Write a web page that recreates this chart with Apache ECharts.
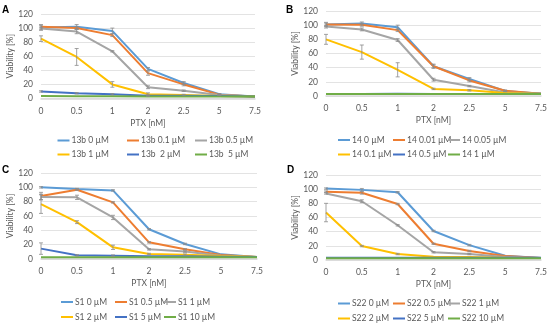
<!DOCTYPE html>
<html><head><meta charset="utf-8">
<script src="https://cdn.jsdelivr.net/npm/echarts@6/dist/echarts.min.js"></script>
<style>html,body{margin:0;padding:0;background:#fff}#c{width:550px;height:328px}</style>
</head><body><div id="c"></div>
<script>
// Categories (x axis)
const ptx = ['0', '0.5', '1', '2', '2.5', '5', '7.5'];
const yTicks = [0, 20, 40, 60, 80, 100, 120];

// Panel A – 13b
const namesA = ['13b 0 µM', '13b 0.1 µM', '13b 0.5 µM', '13b 1 µM', '13b  2 µM', '13b  5 µM'];
const A0 = [101, 102, 96, 42, 22, 6, 3];
const A1 = [102, 100, 90, 36, 20, 5.5, 3];
const A2 = [99.5, 95, 67, 16, 11, 5, 3];
const A3 = [85, 59, 20, 6, 5, 3.5, 3];
const A4 = [10, 7.5, 6, 4, 4, 3.5, 3];
const A5 = [3.5, 3.3, 3.2, 3, 3, 3, 2.8];
const eA0 = [4, 3, 4, 2, 2, 1, 0];
const eA1 = [2, 2, 2, 3, 2, 1, 0];
const eA2 = [2, 3, 1, 2, 1, 1, 0];
const eA3 = [4, 12, 4, 2, 1, 0, 0];
const eA4 = [1, 1, 1, 1, 0, 0, 0];
const eA5 = [0, 0, 0, 0, 0, 0, 0];

// Panel B – 14
const namesB = ['14 0 µM', '14 0.01 µM', '14 0.05 µM', '14 0.1 µM', '14 0.5 µM', '14 1 µM'];
const B0 = [101, 102.5, 97, 42, 24, 7, 3.3];
const B1 = [101, 100.5, 93, 42, 22, 7.5, 3.3];
const B2 = [98, 94, 79, 23, 14, 5, 3.3];
const B3 = [80, 62, 37, 10, 8, 4.2, 3.3];
const B4 = [3, 3, 3.1, 3, 3, 3, 3.3];
const B5 = [2.8, 2.8, 2.8, 2.8, 2.8, 2.8, 2.8];
const eB0 = [3, 2, 3, 3, 2, 1, 0];
const eB1 = [2, 2, 2, 2, 2, 1, 0];
const eB2 = [2, 2, 2, 2, 1, 0, 0];
const eB3 = [7, 10, 10, 1, 1, 0, 0];
const eB4 = [0, 0, 0, 0, 0, 0, 0];
const eB5 = [0, 0, 0, 0, 0, 0, 0];

// Panel C – S1
const namesC = ['S1 0 µM', 'S1 0.5 µM', 'S1 1 µM', 'S1 2 µM', 'S1 5 µM', 'S1 10 µM'];
const C0 = [100, 97.6, 95.7, 41.5, 21, 6.5, 2.8];
const C1 = [88, 96.7, 79, 23.3, 13.5, 5.6, 2.8];
const C2 = [86.4, 86, 58, 13.5, 10.3, 4.7, 2.8];
const C3 = [76.6, 51.4, 16.3, 7, 6, 4.2, 2.8];
const C4 = [14.5, 5.1, 4.7, 3.7, 3.7, 3.3, 2.8];
const C5 = [2.5, 2.5, 2.5, 2.5, 2.5, 2.5, 2.5];
const eC0 = [1, 1, 1, 1, 1, 0, 0];
const eC1 = [5, 1, 1, 1, 1, 0, 0];
const eC2 = [4, 3, 3, 1, 1, 0, 0];
const eC3 = [13, 2, 3, 1, 1, 0, 0];
const eC4 = [8, 1, 1, 0, 0, 0, 0];
const eC5 = [0, 0, 0, 0, 0, 0, 0];

// Panel D – S22
const namesD = ['S22 0 µM', 'S22 0.5 µM', 'S22 1 µM', 'S22 2 µM', 'S22 5 µM', 'S22 10 µM'];
const D0 = [100.8, 99, 95.6, 41, 21, 6, 2.8];
const D1 = [96.5, 95, 79, 23, 12.7, 5.6, 2.8];
const D2 = [94, 83, 49, 11, 8.4, 4.2, 2.8];
const D3 = [67, 19.7, 8.4, 4.7, 4.2, 3.3, 2.8];
const D4 = [3.3, 3.3, 3.3, 3.3, 3.3, 3.3, 3.3];
const D5 = [2.3, 2.3, 2.3, 2.3, 2.3, 2.3, 2.3];
const eD0 = [1, 2, 1, 1, 1, 0, 0];
const eD1 = [1, 2, 1, 1, 1, 0, 0];
const eD2 = [1, 2, 1, 1, 1, 0, 0];
const eD3 = [13, 1, 1, 0, 0, 0, 0];
const eD4 = [0, 0, 0, 0, 0, 0, 0];
const eD5 = [0, 0, 0, 0, 0, 0, 0];

const panelLabels = ['A', 'B', 'C', 'D'];
const colors = ['#5B9BD5', '#ED7D31', '#A5A5A5', '#FFC000', '#4472C4', '#70AD47'];

const panels = [
  {names: namesA, vals: [A0, A1, A2, A3, A4, A5], errs: [eA0, eA1, eA2, eA3, eA4, eA5]},
  {names: namesB, vals: [B0, B1, B2, B3, B4, B5], errs: [eB0, eB1, eB2, eB3, eB4, eB5]},
  {names: namesC, vals: [C0, C1, C2, C3, C4, C5], errs: [eC0, eC1, eC2, eC3, eC4, eC5]},
  {names: namesD, vals: [D0, D1, D2, D3, D4, D5], errs: [eD0, eD1, eD2, eD3, eD4, eD5]}
];

// layout
const FONT = 'Lato';
const TXT = '#595959';
const grids = [
  {left: 41, top: 14, width: 214, height: 84.5},
  {left: 326, top: 11, width: 215, height: 85},
  {left: 41, top: 173, width: 216, height: 86},
  {left: 326, top: 175, width: 215, height: 85}
];
const legCols = [[57.5, 127, 195], [338, 393, 448], [61, 115, 164], [338, 393, 448]];
const legRows = [[141, 155], [140.5, 155], [302.5, 317.5], [304, 319]];
const labelPos = [[6, 11], [290, 11], [6, 171], [291, 171]];

const option = {
  animation: false,
  backgroundColor: '#fff',
  textStyle: {fontFamily: FONT},
  grid: grids.map(g => Object.assign({containLabel: false}, g)),
  xAxis: grids.map((g, i) => ({
    type: 'category', gridIndex: i, data: ptx, boundaryGap: false,
    axisLine: {show: true, lineStyle: {color: '#D9D9D9', width: 1.5}},
    axisTick: {show: false},
    axisLabel: {color: TXT, fontSize: 8.5, fontFamily: FONT, margin: 8},
    splitLine: {show: false},
    name: 'PTX [nM]', nameLocation: 'middle', nameGap: 20,
    nameTextStyle: {color: TXT, fontSize: 8.5, fontFamily: FONT}
  })),
  yAxis: grids.map((g, i) => ({
    type: 'value', gridIndex: i, min: 0, max: 120, interval: 20,
    axisLine: {show: false}, axisTick: {show: false},
    axisLabel: {color: TXT, fontSize: 8.5, fontFamily: FONT, margin: 8},
    splitLine: {show: true, lineStyle: {color: '#E3E3E3', width: 1}},
    name: 'Viability [%]', nameLocation: 'middle', nameGap: 18,
    nameTextStyle: {color: TXT, fontSize: 8.5, fontFamily: FONT}
  })),
  legend: [],
  graphic: panelLabels.map((t, i) => ({
    type: 'text', left: labelPos[i][0] - 4, top: labelPos[i][1] - 6,
    style: {text: t, font: 'bold 10px Arial', fill: '#000'}
  })),
  series: []
};

panels.forEach((p, pi) => {
  p.vals.forEach((v, si) => {
    option.series.push({
      type: 'line', name: p.names[si], xAxisIndex: pi, yAxisIndex: pi,
      data: v, symbol: 'none', color: colors[si],
      lineStyle: {width: 2, color: colors[si]}, z: 2 + si * 0.01
    });
  });
  p.vals.forEach((v, si) => {
    const err = p.errs[si];
    option.series.push({
      type: 'custom', xAxisIndex: pi, yAxisIndex: pi, z: 3,
      data: v.map((y, k) => [k, y, err[k]]),
      renderItem: function (params, api) {
        const e = api.value(2);
        if (!e) return null;
        const x = api.value(0), y = api.value(1);
        const hi = api.coord([x, y + e]);
        const lo = api.coord([x, y - e]);
        const w = 2;
        const st = {stroke: '#8C8C8C', lineWidth: 0.8};
        return {
          type: 'group', children: [
            {type: 'line', shape: {x1: hi[0], y1: hi[1], x2: lo[0], y2: lo[1]}, style: st},
            {type: 'line', shape: {x1: hi[0] - w, y1: hi[1], x2: hi[0] + w, y2: hi[1]}, style: st},
            {type: 'line', shape: {x1: lo[0] - w, y1: lo[1], x2: lo[0] + w, y2: lo[1]}, style: st}
          ]
        };
      }
    });
  });
  // legends, 2 rows x 3 cols
  p.names.forEach((n, si) => {
    const col = si % 3, row = Math.floor(si / 3);
    option.legend.push({
      data: [n], left: legCols[pi][col], top: legRows[pi][row] - 5,
      padding: 0, itemWidth: 12, itemHeight: 2, icon: 'rect',
      selectedMode: false,
      itemStyle: {color: colors[si]},
      textStyle: {color: TXT, fontSize: 8.5, fontFamily: FONT, padding: [0, 0, 0, -3]}
    });
  });
});

const chart = echarts.init(document.getElementById('c'), null, {renderer: 'canvas'});
chart.setOption(option);
</script>
</body></html>
